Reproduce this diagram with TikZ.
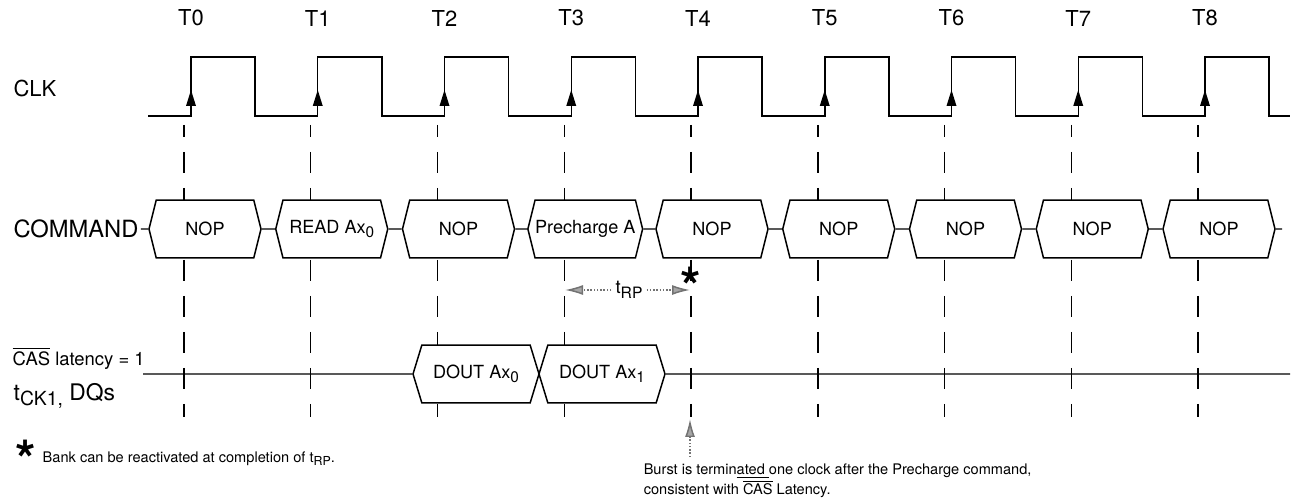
\documentclass[tikz,border=0pt]{standalone}
\usepackage{fontspec}
\setmainfont{TeX Gyre Heros}
\usepackage{tikz}
\usetikzlibrary{arrows.meta, shapes.symbols}

% large, dropped index as the datasheet sets it
\newcommand{\lowtext}[1]{\raisebox{-0.45ex}{\scalebox{0.85}{#1}}}

\begin{document}
\begin{tikzpicture}[x=0.02cm, y=-0.02cm, line width=0.85pt,
  sig/.style={font=\fontsize{12.5}{14}\selectfont, inner sep=1pt},
  clklabel/.style={font=\fontsize{12.5}{14}\selectfont, inner sep=0pt},
  guide/.style={dash pattern=on 0.42cm off 0.3cm, dash phase=0.18cm},
  cmd/.style={draw, fill=white, signal, signal to=east and west, signal pointer angle=152,
    minimum width=2.24cm, minimum height=1.16cm, inner sep=0pt, font=\fontsize{10.3}{12}\selectfont},
  dout/.style={cmd, signal pointer angle=146, minimum width=2.52cm},
  halftone/.style={black!55, densely dotted, -{Latex[length=0.36cm, width=0.2cm, fill=black!35]}},
  note/.style={font=\fontsize{8.3}{8.1}\selectfont, inner sep=0pt, align=left},
  bigstar/.style={font=\fontsize{30}{30}\bfseries\selectfont, inner sep=0pt}
]
  \useasboundingbox (0,0) rectangle (1292,500);

  % clock
  \foreach \i in {0,...,8}
    \node[clklabel] (t\i) at ({191+126.75*\i},18) {T\i};
  \node[sig, anchor=west] (clk) at (11,88) {CLK};
  \draw (148,116) \foreach \i in {0,...,8} {
      -- ({191+126.75*\i},116) -- ++(0,-59) -- ++(64,0) -- ++(0,59)} -- (1290,116);
  \foreach \i in {0,...,8}
    \fill ({186+126.75*\i},106) -- ++(10,0) -- ({191+126.75*\i},90) -- cycle;

  % reference lines
  \foreach \i in {0,...,8}
    \draw[guide] ({184+126.75*\i},125) -- ({184+126.75*\i},417);

  % command bus
  \node[sig, font=\fontsize{13.5}{15}\selectfont, anchor=west] (command) at (11,229) {COMMAND};
  \foreach \op [count=\i from 0] in {NOP, {READ Ax\lowtext{0}}, NOP, Precharge A, NOP, NOP, NOP, NOP, NOP}
    \node[cmd] (c\i) at ({205+126.75*\i},229) {\op};
  \draw (command) -- (c0);
  \foreach \i [evaluate=\i as \j using int(\i+1)] in {0,...,7}
    \draw (c\i) -- (c\j);
  \coordinate (cmdend) at (1282,229);
  \draw (c8) -- (cmdend);

  % precharge time
  \coordinate (rpa) at (565,290);
  \coordinate (rpb) at (690,290);
  \node[font=\fontsize{10.5}{12}\selectfont, inner xsep=2pt] (trp) at (629,290) {t\lowtext{RP}};
  \draw[halftone] (trp) -- (rpa);
  \draw[halftone] (trp) -- (rpb);
  \node[bigstar] (react) at (691,286) {*};

  % data outputs
  \node[font=\fontsize{10.5}{12}\selectfont, inner sep=0pt, anchor=base west] (caslat) at (12,365) {$\overline{\mbox{CAS}}$ latency = 1};
  \node[font=\fontsize{13}{15}\selectfont, inner sep=0pt, anchor=base west] (dqs) at (13,400) {t\lowtext{CK1,} DQs};
  \node[dout] (d0) at (476,374) {DOUT Ax\lowtext{0}};
  \node[dout] (d1) at (602,374) {DOUT Ax\lowtext{1}};
  \coordinate (dqstart) at (143,374);
  \coordinate (dqend) at (1290,374);
  \draw (dqstart) -- (d0);
  \draw (d1) -- (dqend);

  % notes
  \node[bigstar] (fnstar) at (26,459) {*};
  \node[note, anchor=base west] (fntext) at (42,462) {Bank can be reactivated at completion of t\lowtext{RP}.};
  \coordinate (brstfoot) at (690,457);
  \coordinate (brsttip) at (690,419);
  \draw[halftone] (brstfoot) -- (brsttip);
  \node[note, anchor=north west] (burst) at (643,463) {Burst is termin\underline{ated }one clock after the Precharge command,\\consistent with $\overline{\mbox{CAS}}$ Latency.};
\end{tikzpicture}
\end{document}
